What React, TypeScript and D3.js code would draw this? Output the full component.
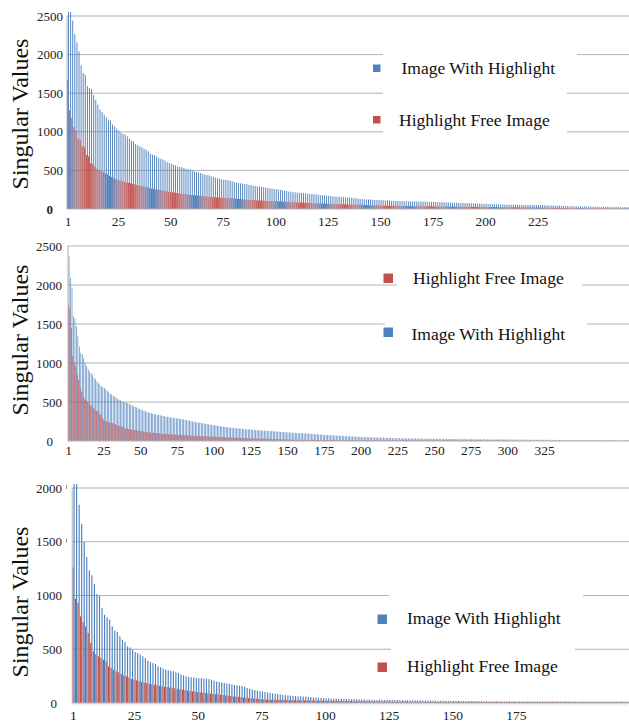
import * as d3 from "d3";

const SERIF = '"Liberation Serif", "Times New Roman", Times, serif';
const BLUE = "#4f81bd";
const RED = "#c0504d";
const GRID = "#b3b3b3";

const LABEL_WITH = "Image With Highlight";
const LABEL_FREE = "Highlight Free Image";
const Y_TITLE = "Singular Values";

// ---- top chart
const topWith = [
  2700, 2650, 2440, 2267, 2159, 2043, 1861, 1762, 1740, 1590,
  1567, 1554, 1473, 1416, 1351, 1287, 1257, 1222, 1188, 1160,
  1144, 1092, 1071, 1041, 1015, 990, 972, 963, 941, 910,
  885, 876, 842, 825, 812, 799, 780, 768, 747, 717,
  705, 695, 682, 661, 650, 639, 626, 609, 596, 585,
  574, 565, 552, 544, 540, 531, 522, 515, 509, 498,
  488, 479, 472, 466, 453, 444, 440, 436,
  425, 416, 406, 400, 392, 386, 380, 376, 372, 367,
  360, 350, 342, 336, 332, 328, 325, 320, 314, 310,
  304, 298, 294, 290, 285, 280, 277, 272, 268, 264,
  260, 257, 251, 246, 242, 238, 233, 226, 223, 219,
  216, 213, 211, 209, 206, 203, 198, 194, 193, 191,
  188, 185, 181, 179, 177, 174, 170, 167, 163, 160,
  160, 159, 156, 153, 151, 149, 147, 144, 140, 137,
  133, 130, 128, 126, 125, 124, 123, 119, 117, 116,
  115, 115, 113, 112, 110, 108, 107, 105, 104, 104, 103,
  102, 101, 100, 100, 99, 98, 98, 97, 96, 96, 95, 94, 94, 93, 92, 92,
  91, 90, 89, 88, 87, 86, 85, 84, 83, 82, 81, 80, 79, 78, 77, 76, 75, 74, 73, 72, 71, 70, 68, 67, 65,
  64, 63, 62, 62, 61, 60, 59, 59, 58, 57, 57, 56, 56, 55, 55, 54, 54, 53, 53, 53, 52, 52, 52, 52, 52,
  51, 50, 49, 48, 47, 46, 45, 44, 43, 42, 41, 40, 39, 38, 37, 36, 35, 35, 34, 34, 33, 33, 32, 32, 31,
  31, 30, 30, 29, 29, 28, 28, 27, 27, 26, 26, 25, 25, 24, 24, 23, 23, 22,
];
const topFree = [
  1675, 1280, 1180, 1060, 1020, 910, 890, 815, 800, 700,
  680, 595, 585, 550, 520, 505, 495, 480, 465, 450,
  430, 415, 400, 388, 375, 368, 360, 352, 346, 340,
  333, 325, 318, 312, 305, 300, 294, 288, 280, 272,
  265, 260, 256, 252, 248, 242, 236, 230, 225, 220,
  215, 211, 207, 203, 200, 197, 193, 190, 186, 182,
  179, 177, 175, 172, 168, 165, 162, 159,
  157, 155, 152, 150, 148, 146, 144, 143, 141, 140, 139, 138,
  135, 132, 129, 127, 124, 122, 119, 117,
  115, 114, 112, 110, 109, 107, 106, 104,
  103, 102, 101, 100, 99, 98, 96, 95,
  93, 92, 90, 89, 87, 85, 84, 82,
  81, 80, 79, 78, 77, 76, 74, 73,
  72, 71, 70, 69, 68, 67, 66, 65,
  64, 63, 62, 60, 59, 58, 56,
  56, 55, 55, 54, 54, 53, 53, 52,
  51, 50, 49, 48, 47, 46, 45, 43,
  43, 42, 42, 41, 41, 40, 40, 39,
  39, 38, 38, 37, 37, 36, 36, 36, 35, 35, 35, 34, 34, 34, 33, 33,
  33, 32, 32, 32, 31, 31, 31, 30, 30, 30, 29, 29, 29, 28, 28, 28, 28, 27, 27, 27, 27, 26, 26, 26, 26,
  25, 25, 25, 24, 24, 24, 23, 23, 23, 22, 22, 22, 22, 21, 21, 21, 21, 20, 20, 20, 20, 20, 19, 19, 19,
  18, 18, 18, 17, 17, 16, 16, 15, 15, 15, 14, 14, 13, 13, 13, 12, 12, 12, 11, 11, 11, 10, 10, 10, 10,
  9, 9, 9, 8, 8, 8, 8, 7, 7, 7, 7, 6, 6, 6, 6, 6, 5, 5,
];
const topXTicks = [1, 25, 50, 75, 100, 125, 150, 175, 200, 225];

// ---- middle chart
const midWith = [
  2370, 2090, 1970, 1600, 1570, 1470, 1340, 1210, 1130, 1110,
  1060, 1000, 960, 920, 890, 870, 850, 810, 790, 765,
  745, 722, 700, 690, 680, 660, 645, 625, 610, 594,
  580, 570, 560, 545, 530, 520, 509, 500, 496, 490,
  487, 475, 465, 455, 445, 438, 430, 420, 410, 401,
  395, 388, 380, 372, 366, 360, 355, 350, 344, 340,
  336, 333, 329, 325, 321, 317, 313, 309, 305, 300,
  298, 296, 294, 292, 290,
  287, 283, 280, 276, 272, 268, 264, 260, 256, 252, 248, 244, 240, 237, 234, 230, 227,
  224, 221, 218, 214, 211, 207, 204, 201, 198, 195, 192, 189, 186, 183, 180, 178, 175, 173, 171, 169, 167, 165, 163,
  161, 159, 158, 156, 154, 152, 150, 149, 147, 145, 144, 142, 141, 139, 138, 136, 135, 133, 132, 131, 130, 129, 128,
  127, 125, 124, 123, 121, 120, 118, 117, 115, 114, 112, 111, 110, 108, 107, 106, 104, 103, 102, 101, 100, 99, 98,
  97, 95, 94, 93, 91, 90, 88, 87, 86, 84, 83, 81, 80, 79, 77, 76, 75, 73, 72, 71, 70, 69, 68,
  67, 66, 65, 64, 63, 62, 61, 60, 59, 58, 57, 56, 55, 54, 53, 52, 51, 51, 50, 49, 48, 48, 47,
  46, 46, 45, 44, 44, 43, 42, 42, 41, 40, 40, 39, 38, 38, 37, 37, 36, 36, 35, 35, 35, 34, 34,
  34, 33, 33, 33, 32, 32, 32, 31, 31, 31, 30, 30, 30, 30, 29, 29, 29, 29, 28, 28,
  28, 28, 27, 27, 27, 27, 26, 26, 26, 26, 26, 25, 25, 25, 25, 25, 24, 24, 24, 24, 24, 23, 23, 23, 23,
  23, 23, 22, 22, 22, 22, 22, 22, 21, 21, 21, 21, 21, 21, 20, 20, 20, 20, 20, 20, 20, 19, 19, 19, 19,
  19, 19, 19, 18, 18, 18, 18, 18, 18, 17, 17, 17, 17, 17, 17, 16, 16, 16, 16, 16,
  16, 16, 15, 15, 15, 15, 15, 15, 15, 15, 14, 14, 14, 14, 14, 14, 14, 14, 14, 14,
  12, 12, 12, 12, 12, 12, 11, 11, 11, 11, 11, 11, 11, 11, 11, 11, 11, 10, 10, 10, 10,
  10, 10, 10, 10, 10, 10, 10, 10, 10, 10, 9, 9, 9, 9, 9, 9, 9, 9, 9, 9, 9,
];
const midFree = [
  1750, 1700, 1450, 1090, 1000, 957, 850, 786, 690, 637,
  573, 540, 530, 505, 487, 465, 445, 425, 401, 390,
  380, 350, 337, 300, 273, 262, 252, 246, 240, 235,
  231, 222, 214, 206, 200, 196, 188, 180, 170, 162,
  158, 154, 150, 147, 144, 141, 138, 135, 132, 128,
  125, 121, 118, 115, 113, 111, 109, 107, 105, 103,
  102, 100, 98, 96, 94, 92, 91, 90, 88, 86,
  85, 84, 83, 82, 81,
  80, 79, 78, 76, 75, 74, 73, 72, 70, 69, 68, 67, 66, 65, 64, 63, 62, 61, 60, 59, 58, 57, 56, 56, 55,
  54, 53, 52, 51, 50, 49, 48, 47, 46, 45, 44, 43, 42, 41, 41, 40, 39, 38, 38, 37, 36, 36, 35, 35, 34,
  33, 33, 32, 32, 31, 30, 30, 29, 29, 28, 27, 27, 26, 26, 25, 24, 24, 23, 23, 22,
  21, 21, 20, 20, 19, 18, 18, 17, 17, 16, 16, 15, 15, 14, 14,
  14, 14, 14, 13, 13, 13, 13, 13, 13, 13, 13, 13, 12, 12, 12, 12, 12, 12, 12, 12,
  12, 12, 12, 12, 11, 11, 11, 11, 11, 11, 11, 11, 11, 11, 11, 11, 11, 11, 11, 11,
  11, 11, 11, 11, 11, 10, 11, 10, 10, 10,
  10, 10, 10, 10, 10, 10, 10, 10, 10, 10,
  10, 10, 10, 10, 10, 10, 10, 10, 10, 10,
  10, 9, 10, 10, 9, 9, 9, 9, 9, 9,
  9, 9, 9, 9, 9, 9, 9, 9, 9, 9,
  9, 9, 9, 9, 9, 9, 9, 9, 9, 9,
  9, 9, 9, 9, 9, 8, 9, 8, 8, 8,
  8, 8, 8, 8, 8, 8, 8, 8, 8, 8,
  8, 8, 8, 8, 8, 8, 8, 8, 8, 8,
  8, 8, 8, 8, 7, 7, 7, 7, 7, 7,
];
const midXTicks = [1, 25, 50, 75, 100, 125, 150, 175, 200, 225, 250, 275, 300, 325];

// ---- bottom chart
const botWith = [
  2100, 2080, 1845, 1665, 1498, 1358, 1234, 1188, 1107, 1014,
  995, 884, 822, 797, 775, 713, 673, 660, 620, 589,
  567, 527, 518, 496, 474, 465, 450, 434, 419, 394,
  381, 372, 363, 341, 332, 319, 310, 305, 300, 295,
  285, 279, 264, 258, 248, 242, 238, 236, 234, 232,
  230, 228,
  226, 222, 216, 208, 200, 196, 192, 186, 182, 178,
  173, 168, 165, 161, 157, 150, 140, 132, 126, 120,
  115, 110, 106, 102, 98, 94, 90, 86, 83, 80,
  76, 73, 70, 68, 66, 65, 63, 62, 60, 58,
  56, 54, 52, 50, 49, 47, 46, 45, 43, 41,
  40, 40, 39, 39, 38, 38, 37, 37, 36, 35,
  34, 33, 32, 31, 31, 30, 30, 29, 29, 28,
  28, 28, 28, 28, 27, 27, 27, 26,
  26, 26, 25, 25, 25, 24, 24, 24, 23, 23, 23, 22, 22, 22, 21, 21, 21, 21, 20, 20,
  20, 20, 19, 19, 19, 19, 18, 18, 18, 18, 18, 17, 17, 17, 17, 17, 17, 16, 16, 16, 16, 16, 16, 16, 15,
  15, 15, 15, 15, 15, 15, 15, 15, 15, 15,
  15, 15, 15, 15, 15, 15, 15, 15, 15, 15,
  14, 14, 14, 14, 14, 14, 14, 14, 14, 14,
  14, 14, 14, 14, 14, 14, 14, 14, 14, 14,
  14, 14, 14, 14,
];
const botFree = [
  1262, 970, 930, 806, 753, 713, 651, 558, 481, 456,
  434, 419, 403, 388, 341, 326, 310, 295, 285, 270,
  259, 248, 236, 223, 217, 211, 203, 195, 190, 186,
  180, 175, 170, 165, 160, 155, 151, 148, 144, 140,
  136, 132, 128, 124, 120, 116, 112, 109, 106, 102,
  99, 96,
  93, 90, 88, 85, 82, 80, 77, 74, 71, 68,
  65, 62, 60, 57, 54, 51, 48, 46, 43, 41,
  39, 37, 35, 33, 31, 30, 30, 29, 29, 28,
  28, 27, 27, 26, 26, 26, 25, 25, 24, 24,
  23, 23, 22, 22, 21, 21, 20, 20, 20, 19,
  19, 19, 18, 18, 18, 17, 17, 17, 16, 16,
  16, 15, 15, 15, 15, 14, 14, 14, 14, 13,
  13, 13, 13, 12, 12, 12, 12, 12,
  12, 12, 11, 11, 11, 11, 11, 11, 11, 10, 10, 10, 10, 10, 10, 10, 10, 10, 10, 10,
  10, 10, 10, 10, 9, 9, 9, 9, 9, 9, 9, 9, 9, 9, 9, 9, 9, 9, 9, 9, 9, 9, 9, 9, 9,
  9, 9, 9, 9, 9, 9, 9, 9, 9, 9,
  8, 8, 8, 8, 8, 8, 8, 8, 8, 8,
  8, 8, 8, 8, 8, 8, 8, 8, 8, 8,
  8, 8, 8, 8, 8, 8, 8, 8, 8, 8,
  8, 8, 8, 8,
];
const botXTicks = [1, 25, 50, 75, 100, 125, 150, 175];

const yTicks2500 = [0, 500, 1000, 1500, 2000, 2500];
const yTicks2000 = [0, 500, 1000, 1500, 2000];

const panels = [
  {
    id: "top", blue: topWith, red: topFree, xTicks: topXTicks, yTicks: yTicks2500,
    yMax: 2500, left: 67, step: 2.098, y0: 209, yTop: 16, clipTop: 12,
    tickRight: 63, zeroRight: 53, zeroBold: true, xLabelY: 226, titleY: 114,
    quoteTicks: [] as number[], minorTicks: false,
    legend: [
      { label: LABEL_WITH, color: BLUE, mx: 373, my: 64.5, ms: 7.5, tx: 401.5, ty: 74 },
      { label: LABEL_FREE, color: RED, mx: 373, my: 116, ms: 7.5, tx: 399, ty: 126 },
    ],
    boxes: [ { x: 383, y: 46, w: 194, h: 16 }, { x: 383, y: 62, w: 184, h: 80 } ],
  },
  {
    id: "mid", blue: midWith, red: midFree, xTicks: midXTicks, yTicks: yTicks2500,
    yMax: 2500, left: 68, step: 1.469, y0: 441, yTop: 246, clipTop: 242,
    tickRight: 62, zeroRight: 53, zeroBold: false, xLabelY: 455, titleY: 340,
    quoteTicks: [] as number[], minorTicks: false,
    legend: [
      { label: LABEL_FREE, color: RED, mx: 383.5, my: 273.5, ms: 9.5, tx: 413, ty: 283.5 },
      { label: LABEL_WITH, color: BLUE, mx: 383.5, my: 327.5, ms: 9.5, tx: 411.5, ty: 339.5 },
    ],
    boxes: [ { x: 397, y: 262, w: 185, h: 36 }, { x: 385, y: 298, w: 202, h: 50 } ],
  },
  {
    id: "bot", blue: botWith, red: botFree, xTicks: botXTicks, yTicks: yTicks2000,
    yMax: 2000, left: 72.2, step: 2.546, y0: 703, yTop: 488, clipTop: 484,
    tickRight: 62, zeroRight: 57, zeroBold: false, xLabelY: 720, titleY: 602,
    quoteTicks: [1500, 2000], minorTicks: true,
    legend: [
      { label: LABEL_WITH, color: BLUE, mx: 377.5, my: 614.5, ms: 9.5, tx: 407, ty: 624 },
      { label: LABEL_FREE, color: RED, mx: 377.5, my: 662.5, ms: 9.5, tx: 407, ty: 672 },
    ],
    boxes: [ { x: 389, y: 585, w: 194, h: 30 }, { x: 391, y: 615, w: 184, h: 65 } ],
  },
];

function Panel({ p }: { p: (typeof panels)[number] }) {
  const n = p.blue.length;
  const cats = d3.range(1, n + 1);
  const x = d3.scaleBand<number>().domain(cats).range([p.left, p.left + n * p.step]);
  const y = d3.scaleLinear().domain([0, p.yMax]).range([p.y0, p.yTop]);
  const s = x.step();
  const right = 629;

  return (
    <g>
      <defs>
        <clipPath id={`clip-${p.id}`}>
          <rect x={p.left} y={p.clipTop} width={right - p.left} height={p.y0 - p.clipTop} />
        </clipPath>
      </defs>

      {/* gridlines */}
      {p.yTicks.filter((t) => t > 0).map((t) => (
        <line key={t} x1={p.left} x2={right} y1={y(t)} y2={y(t)} stroke={GRID} strokeWidth={1} />
      ))}
      {/* legend background breaks the gridlines */}
      {p.boxes.map((b, i) => (
        <rect key={i} x={b.x} y={b.y} width={b.w} height={b.h} fill="#fff" />
      ))}

      {/* bars */}
      <g clipPath={`url(#clip-${p.id})`}>
        {p.blue.map((v, i) => (
          <rect key={"b" + i} x={(x(i + 1) as number) + s * 0.5} y={y(v)}
            width={s * 0.45} height={p.y0 - y(v)} fill={BLUE} />
        ))}
        {p.red.map((v, i) => (
          <rect key={"r" + i} x={(x(i + 1) as number) + s * 0.05} y={y(v)}
            width={s * 0.45} height={p.y0 - y(v)} fill={RED} />
        ))}
      </g>

      {/* axes */}
      <line x1={p.left} x2={right} y1={p.y0} y2={p.y0} stroke={GRID} strokeWidth={1} />
      <line x1={p.left} x2={p.left} y1={p.yTop} y2={p.y0} stroke={GRID} strokeWidth={1} />
      {p.minorTicks && cats.map((c) => (
        <line key={"m" + c} x1={x(c) as number} x2={x(c) as number} y1={p.y0} y2={p.y0 + 2.5}
          stroke="#c8c8c8" strokeWidth={0.6} />
      ))}

      {/* y tick labels */}
      {p.yTicks.map((t) => (
        <text key={"yl" + t} x={t === 0 ? p.zeroRight : p.tickRight} y={y(t)} dy="0.35em"
          textAnchor="end" fontFamily={SERIF} fontSize={13}
          fontWeight={t === 0 && p.zeroBold ? "bold" : "normal"} fill="#222">
          {t}
        </text>
      ))}
      {p.quoteTicks.map((t) => (
        <line key={"q" + t} x1={66.5} x2={66.5} y1={y(t) - 3} y2={y(t) + 1} stroke="#777" strokeWidth={0.8} />
      ))}

      {/* x tick labels */}
      {p.xTicks.map((t) => (
        <text key={"xl" + t} x={(x(t) as number) + s / 2} y={p.xLabelY} textAnchor="middle"
          fontFamily={SERIF} fontSize={13.5} fill="#222">
          {t}
        </text>
      ))}

      <text transform={`translate(28,${p.titleY}) rotate(-90)`} textAnchor="middle"
        fontFamily={SERIF} fontSize={24} fill="#111">
        {Y_TITLE}
      </text>

      {p.legend.map((l) => (
        <g key={l.label}>
          <rect x={l.mx} y={l.my} width={l.ms} height={l.ms} fill={l.color} />
          <text x={l.tx} y={l.ty} fontFamily={SERIF} fontSize={17.5} fill="#111">{l.label}</text>
        </g>
      ))}
    </g>
  );
}

export default function App() {
  return (
    <svg width={629} height={723} style={{ position: "absolute", left: 0, top: 0, background: "#fff" }}>
      <rect width={629} height={723} fill="#fff" />
      {panels.map((p) => (
        <Panel key={p.id} p={p} />
      ))}
    </svg>
  );
}
